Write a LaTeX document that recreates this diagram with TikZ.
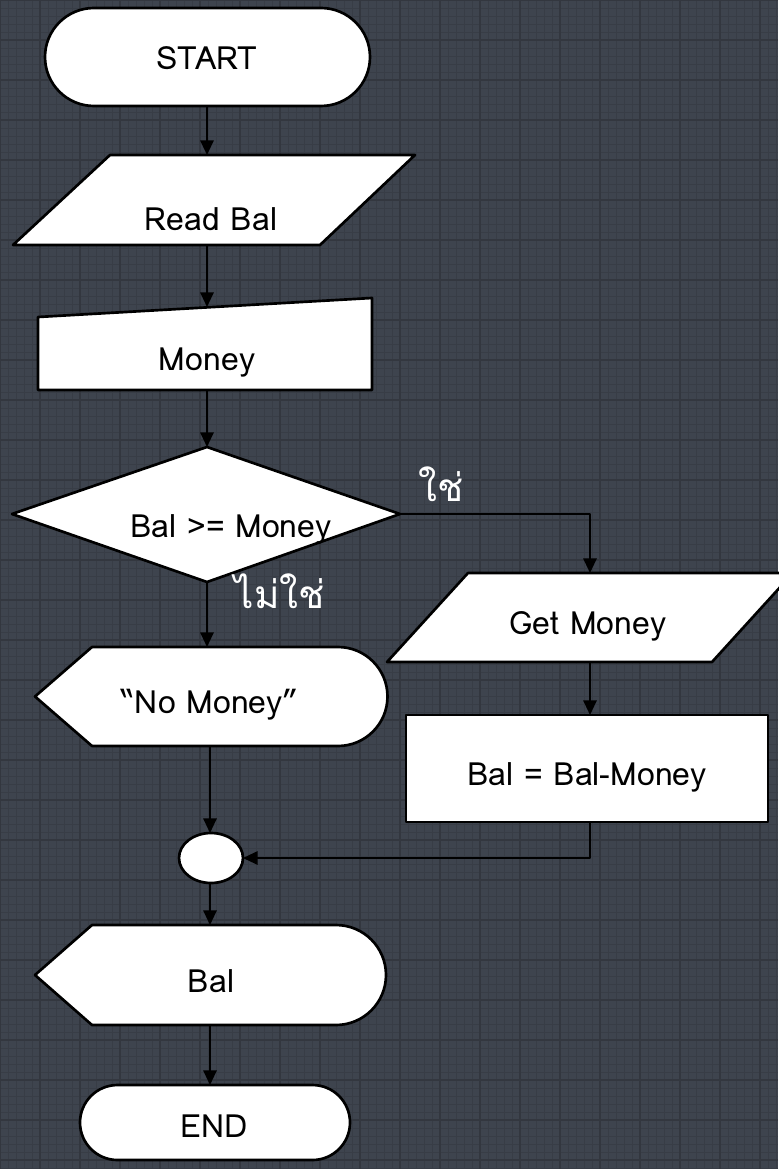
\documentclass[tikz,border=0pt]{standalone}
\usepackage{fontspec}
\setmainfont{Loma}
\newfontfamily\thaifont[Script=Thai]{Loma}
\usetikzlibrary{arrows.meta}
\definecolor{bgcol}{HTML}{3E444E}
\definecolor{gridminor}{HTML}{383D46}
\definecolor{gridmajor}{HTML}{33373F}
\begin{document}
\begin{tikzpicture}[x=0.75pt,y=-0.75pt,line join=round,
  shapebox/.style={fill=white,draw=black,line width=2pt},
  lbl/.style={font=\fontsize{24}{28}\selectfont,text=black,inner sep=0pt,anchor=base},
  conn/.style={draw=black,line width=1.5pt},
  arr/.style={conn,-{Triangle[length=11pt,width=10pt]}},
  tlabel/.style={font=\thaifont\fontsize{29}{32}\selectfont,text=white,inner sep=0pt}]
% background and grid
\fill[bgcol] (0,0) rectangle (778,1169);
\useasboundingbox (0,0) rectangle (778,1169);
\foreach \i in {0,8,...,776} \draw[gridminor,line width=0.5pt] (\i,0) -- (\i,1169);
\foreach \j in {0,8,...,1168} \draw[gridminor,line width=0.5pt] (0,\j) -- (778,\j);
\foreach \i in {0,40,...,776} \draw[gridmajor,line width=0.8pt] (\i,0) -- (\i,1169);
\foreach \j in {0,40,...,1168} \draw[gridmajor,line width=0.8pt] (0,\j) -- (778,\j);

% shapes
\draw[shapebox] (94,8) -- (321,8) arc(-90:90:49) -- (94,106) arc(90:270:49) -- cycle;
\draw[shapebox] (110,155) -- (415,155) -- (320,245) -- (13,245) -- cycle;
\draw[shapebox] (38,317) -- (372,298) -- (372,390) -- (38,390) -- cycle;
\draw[shapebox] (207,447) -- (400,514) -- (207,582) -- (12,514) -- cycle;
\draw[shapebox] (468,573) -- (793,573) -- (712,662) -- (387,662) -- cycle;
\draw[shapebox] (406,715) rectangle (768,822);
\draw[shapebox] (35,696.5) -- (92,647) -- (338,647) arc(-90:90:49.5) -- (92,746) -- cycle;
\draw[shapebox] (35,975) -- (92,925) -- (336,925) arc(-90:90:50) -- (92,1025) -- cycle;
\draw[shapebox] (211,858) ellipse[x radius=32,y radius=25];
\draw[shapebox] (117.5,1085) -- (312.5,1085) arc(-90:90:37.5) -- (117.5,1160) arc(90:270:37.5) -- cycle;

% texts
\node[lbl] (start) at (207,70) {START};
\node[lbl] (read) at (211,231) {Read Bal};
\node[lbl] (money) at (207,370) {Money};
\node[lbl] (dec) at (231,537) {Bal >= Money};
\node[lbl] (getm) at (588,634) {Get Money};
\node[lbl] (calc) at (587,785) {Bal = Bal-Money};
\node[lbl] (nomoney) at (210,713) {“No Money”};
\node[lbl] (bal) at (211,992) {Bal};
\node[lbl] (end) at (214,1137) {END};
\node[tlabel] (yes) at (441,484) {ใช่};
\node[tlabel] (no) at (280,591) {ไม่ใช่};

% connection points
\coordinate (start-s) at (207,106);
\coordinate (read-n) at (207,155);
\coordinate (read-s) at (207,245);
\coordinate (money-n) at (207,307);
\coordinate (money-s) at (207,390);
\coordinate (dec-n) at (207,447);
\coordinate (dec-e) at (400,514);
\coordinate (dec-s) at (207,582);
\coordinate (bend1) at (590,514);
\coordinate (getm-n) at (590,573);
\coordinate (getm-s) at (590,662);
\coordinate (calc-n) at (590,715);
\coordinate (calc-s) at (590,822);
\coordinate (bend2) at (590,858);
\coordinate (nomoney-n) at (207,647);
\coordinate (nomoney-s) at (210,746);
\coordinate (circ-n) at (210,833);
\coordinate (circ-e) at (243,858);
\coordinate (circ-s) at (210,883);
\coordinate (bal-n) at (210,925);
\coordinate (bal-s) at (210,1025);
\coordinate (end-n) at (210,1085);

% connectors
\draw[arr] (start-s) -- (read-n);
\draw[arr] (read-s) -- (money-n);
\draw[arr] (money-s) -- (dec-n);
\draw[arr] (dec-e) -- (bend1) -- (getm-n);
\draw[arr] (dec-s) -- (nomoney-n);
\draw[arr] (getm-s) -- (calc-n);
\draw[arr] (calc-s) -- (bend2) -- (circ-e);
\draw[arr] (nomoney-s) -- (circ-n);
\draw[arr] (circ-s) -- (bal-n);
\draw[arr] (bal-s) -- (end-n);
\end{tikzpicture}
\end{document}
